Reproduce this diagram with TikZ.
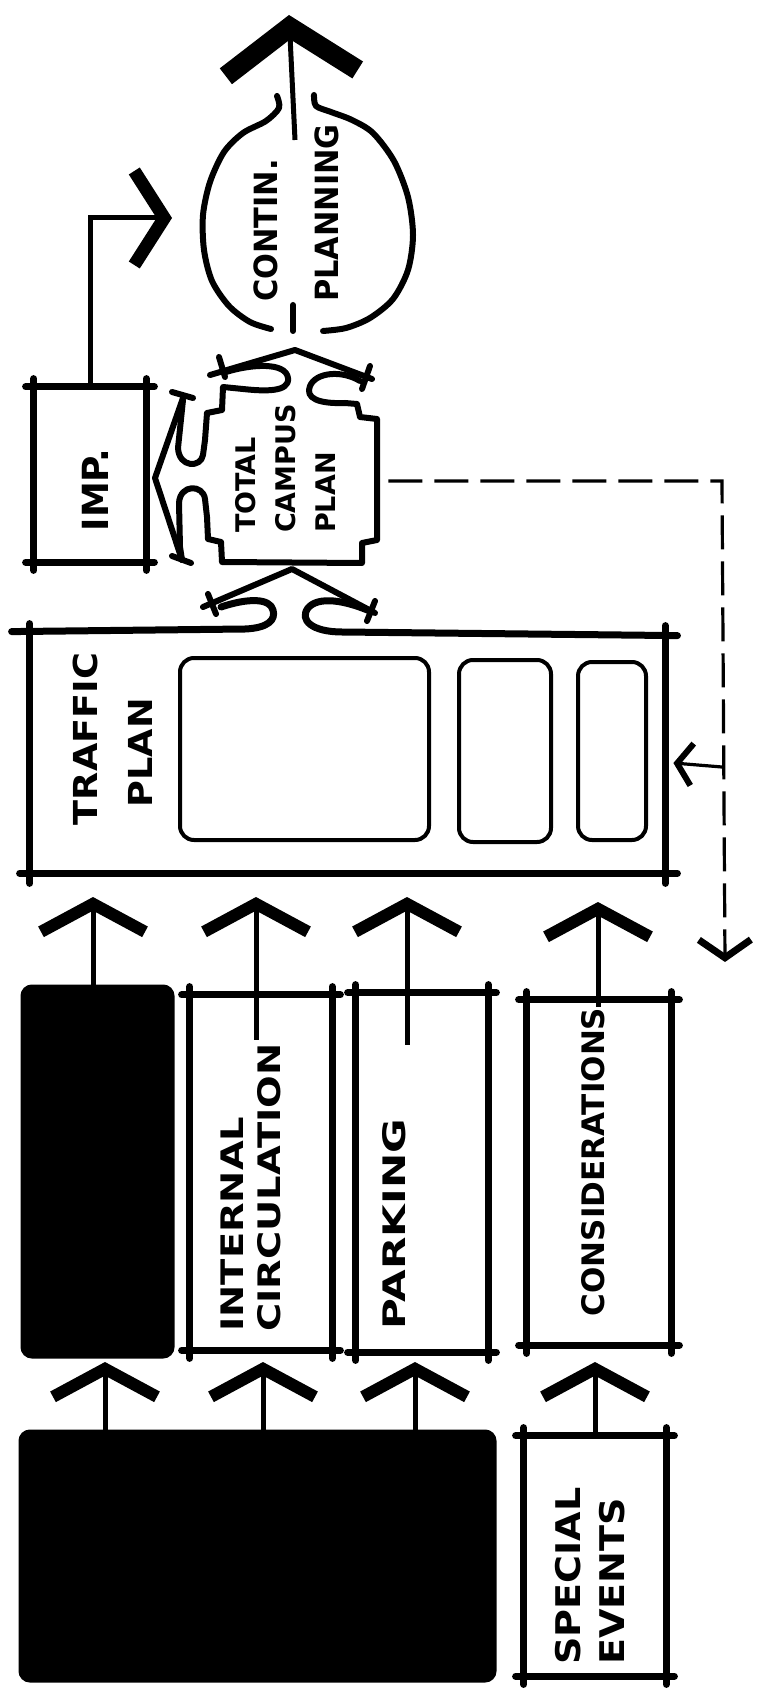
\documentclass[tikz,border=0pt]{standalone}
\usepackage{fontspec}
\setmainfont{DejaVu Sans}
\usetikzlibrary{arrows.meta, positioning, fit, calc}

\begin{document}
\begin{tikzpicture}[x=0.5pt, y=-0.5pt,
  box/.style={inner sep=0pt},
  blk/.style={draw, fill=black, line width=3.5pt, rounded corners=4pt, inner sep=0pt},
  ghost/.style={inner sep=0pt},
  inbox/.style={draw, line width=2pt, rounded corners=7pt},
  bline/.style={line width=3.5pt, line cap=round, line join=round},
  hook/.style={line width=3pt, line cap=round, line join=round},
  lbl/.style={rotate=90, inner sep=0pt, align=left},
  shaft/.style={line width=2.5pt},
  ar/.style={shaft, -{Straight Barb[sharp, length=14pt, width=52pt, line width=6pt]}},
  bigar/.style={shaft, -{Straight Barb[sharp, length=23pt, width=66pt, line width=10pt]}},
  impar/.style={shaft, -{Straight Barb[sharp, length=15pt, width=47pt, line width=6.5pt]}},
  dline/.style={line width=1.6pt, dash pattern=on 17pt off 6pt},
  smallar/.style={line width=1.6pt, -{Straight Barb[sharp, length=7.5pt, width=21pt, line width=3pt]}},
  downar/.style={dline, -{Straight Barb[sharp, length=9pt, width=26pt, line width=3.5pt]}}
]
\useasboundingbox (0,0) rectangle (761,1689);

% boxes
\node[box, fit={(34,387) (146,562)}] (imp) {};
\node[ghost, fit={(205,390) (378,562)}] (tcp) {};
\node[ghost, fit={(30,632) (665,873)}] (traffic) {};
\node[blk, fit={(24,988) (171,1355)}] (blkA) {};
\node[box, fit={(190,995) (332,1350)}] (intc) {};
\node[box, fit={(356,993) (488,1352)}] (park) {};
\node[box, fit={(527,1000) (671,1345)}] (cons) {};
\node[blk, fit={(22,1433) (493,1679)}] (blkB) {};
\node[box, fit={(524,1436) (666,1676)}] (spec) {};

\foreach \b in {imp,intc,park,cons,spec} {
  \draw[bline] ($(\b.north west)+(-8,0)$) -- ($(\b.north east)+(8,0)$);
  \draw[bline] ($(\b.south west)+(-8,0)$) -- ($(\b.south east)+(8,0)$);
  \draw[bline] ($(\b.north west)+(0,-8)$) -- ($(\b.south west)+(0,8)$);
  \draw[bline] ($(\b.north east)+(0,-8)$) -- ($(\b.south east)+(0,8)$);
}

% traffic plan frame
\draw[bline] ($(traffic.south west)+(-10,0)$) -- ($(traffic.south east)+(12,0)$);
\draw[bline] ($(traffic.north west)+(0,-8)$) -- ($(traffic.south west)+(0,10)$);
\draw[bline] ($(traffic.north east)+(0,-6)$) -- ($(traffic.south east)+(0,10)$);
\draw[bline] ($(traffic.north west)+(-18,0)$) -- (245,629) .. controls (268,628) and (276,620) .. (273,610) .. controls (270,598) and (248,598) .. (221,607);
\draw[bline] (372,612) .. controls (345,600) and (318,596) .. (308,608) .. controls (299,620) and (312,632) .. (342,632) -- ($(traffic.north east)+(12,4)$);
\draw[hook] (203,607) -- (292,569) -- (375,613);
\draw[hook] (208,594) -- (216,614);
\draw[hook] (375,601) -- (367,621);
\draw[inbox] (180,658) rectangle (429,840);
\draw[inbox] (459,660) rectangle (551,842);
\draw[inbox] (578,662) rectangle (646,840);

% total campus plan outline
\draw[hook] (226,372) .. controls (252,364) and (286,362) .. (288,378) .. controls (290,393) and (262,391) .. (243,389) -- (223,387) -- (222,410) -- (207,413) -- (205,440) -- (203,455) .. controls (201,468) and (179,468) .. (178,448) -- (183,400);
\draw[hook] (182,560) -- (180,547) -- (179,503) .. controls (180,484) and (203,484) .. (205,499) -- (207,517) -- (208,539) -- (221,542) -- (222,562) -- (362,563) -- (362,543) -- (377,540) -- (377,419) -- (360,417) -- (357,404) -- (345,403) .. controls (318,404) and (305,398) .. (310,386) .. controls (316,372) and (342,370) .. (360,381);
\draw[hook] (210,375) -- (295,350) -- (372,379);
\draw[hook] (219,357) -- (225,377);
\draw[hook] (370,366) -- (362,389);
\draw[hook] (183,398) -- (155,478) -- (182,560);
\draw[hook] (172,392) -- (193,398);
\draw[hook] (172,556) -- (191,563);

% continuing planning outline
\draw[hook] plot[smooth] coordinates {(277,96) (279,108) (266,121) (243,133) (224,152) (210,182) (203,215) (204,250) (212,281) (229,306) (250,322) (271,329)};
\draw[hook] plot[smooth] coordinates {(314,95) (316,106) (331,112) (352,120) (373,133) (394,161) (408,197) (413,235) (408,270) (393,299) (370,318) (346,328) (323,331)};
\draw[hook] (293,305) -- (293,331);

% labels
\node[lbl, font=\bfseries\fontsize{16}{30.5}\selectfont, xscale=0.95] (conttxt) at (296.5,213) {CONTIN.\\PLANNING};
\node[lbl, font=\bfseries\fontsize{18}{20}\selectfont] (imptxt) at (95,490) {IMP.};
\node[lbl, font=\bfseries\fontsize{13.5}{20}\selectfont] (tcptxt) at (285,468.5) {TOTAL\\CAMPUS\\PLAN};
\node[lbl, font=\bfseries\fontsize{16.5}{27.5}\selectfont, xscale=1.11] (traftxt) at (112.5,739) {TRAFFIC\\\hspace{8pt}PLAN};
\node[lbl, font=\bfseries\fontsize{15.5}{18.5}\selectfont, xscale=1.24] (intctxt) at (250.5,1187.5) {INTERNAL\\CIRCULATION};
\node[lbl, font=\bfseries\fontsize{15.5}{20}\selectfont, xscale=1.36] (parktxt) at (394,1224) {PARKING};
\node[lbl, font=\bfseries\fontsize{15.5}{20}\selectfont] (constxt) at (593,1162) {CONSIDERATIONS};
\node[lbl, font=\bfseries\fontsize{17}{22}\selectfont, xscale=1.12] (spectxt) at (590,1576) {SPECIAL\\EVENTS};

% arrows
\coordinate (r1) at (0,897);
\coordinate (r2) at (0,1362);
\coordinate (c1) at (93,0);
\coordinate (c2) at (256,0);
\coordinate (c3) at (407,0);
\coordinate (c4) at (598,0);
\coordinate (d1) at (105,0);
\coordinate (d2) at (263,0);
\coordinate (d3) at (415,0);
\coordinate (d4) at (595,0);
\draw[ar] (blkA.north -| c1) -- (c1 |- r1);
\draw[ar] ($(intc.north -| c2)+(0,45)$) -- (c2 |- r1);
\draw[ar] ($(park.north -| c3)+(0,52)$) -- (c3 |- r1);
\draw[ar] ($(cons.north -| c4)+(0,7)$) -- ($(c4 |- r1)+(0,5)$);
\draw[ar] (blkB.north -| d1) -- (d1 |- r2);
\draw[ar] (blkB.north -| d2) -- (d2 |- r2);
\draw[ar] (blkB.north -| d3) -- (d3 |- r2);
\draw[ar] (spec.north -| d4) -- (d4 |- r2);

\coordinate (cpin) at (295,140);
\coordinate (cpout) at (289,15);
\draw[bigar] (cpin) -- (cpout);
\coordinate (impout) at (172,218);
\draw[impar] (imp.north) |- (impout);

\coordinate (dcorner) at (722,481);
\coordinate (dbranch) at (722,767);
\coordinate (dend) at (725,962);
\draw[downar] ($(tcp.east)+(10,5)$) -- (dcorner) -- (dend);
\draw[smallar] (dbranch) -- ($(dbranch -| traffic.east)+(8,-4)$);
\end{tikzpicture}
\end{document}
